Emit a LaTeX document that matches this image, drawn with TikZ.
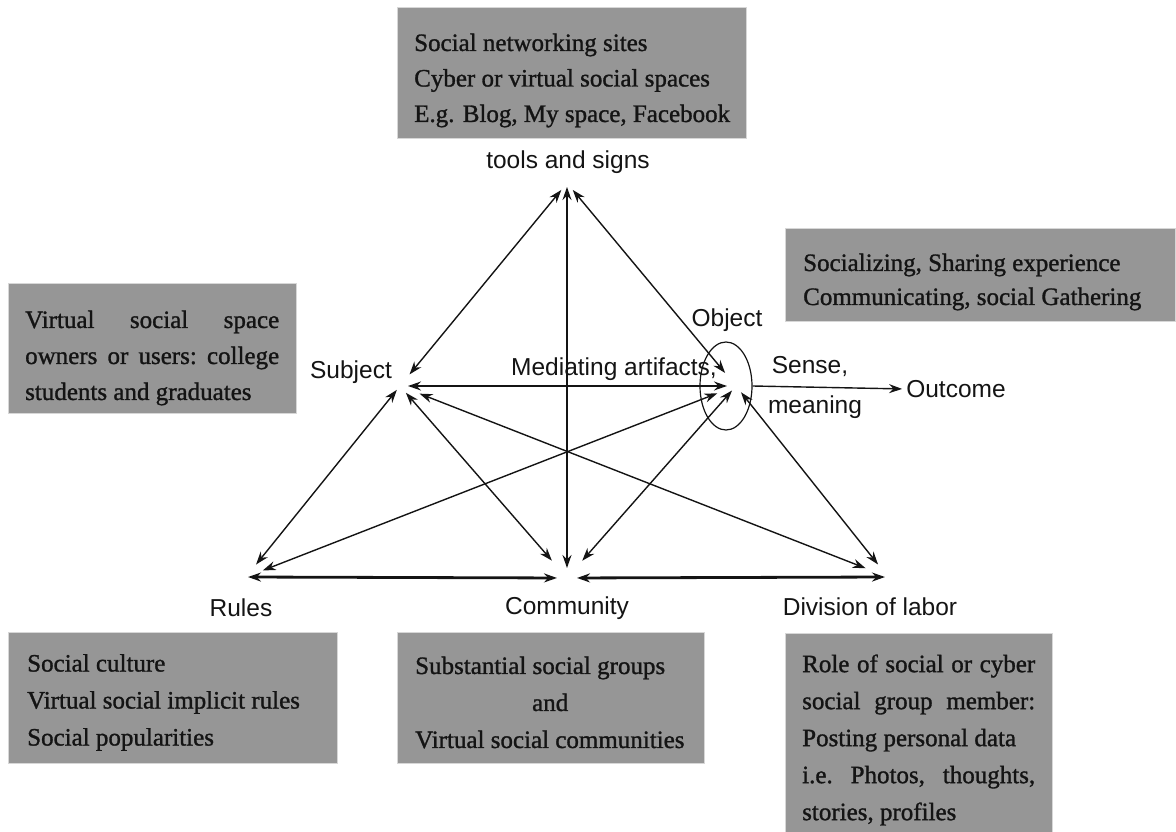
\documentclass[tikz,border=0pt]{standalone}
\usepackage{fontspec}
\setmainfont{Liberation Serif}
\newfontfamily\boxfont[FakeBold=1.2]{Liberation Serif}
\newfontfamily\lblfont{Liberation Sans}
\usetikzlibrary{arrows.meta,shapes.geometric}
\definecolor{boxgray}{RGB}{150,150,150}
\definecolor{boxedge}{RGB}{215,215,215}
\definecolor{ink}{RGB}{20,20,20}
\begin{document}
\begin{tikzpicture}[x=1pt,y=-1pt,
  infobox/.style={fill=boxgray, draw=boxedge, line width=0.7pt, inner sep=0pt},
  boxtext/.style={inner sep=0pt, anchor=west, align=left, text=ink, font=\boxfont\fontsize{25}{#1}\selectfont},
  lbl/.style={font=\lblfont\fontsize{24.5}{29}\selectfont, inner sep=0pt, text=ink},
  link/.style={{Stealth[length=13pt,width=9pt]}-{Stealth[length=13pt,width=9pt]}, line width=1.4pt, draw=ink},
  base/.style={link, line width=2.8pt},
  outarrow/.style={-{Stealth[length=13pt,width=9pt]}, line width=1.4pt, draw=ink},
]
\useasboundingbox (0,0) rectangle (1176,832);

% hubs
\coordinate (T) at (567,183);
\coordinate (S) at (400,386);
\coordinate (O) at (736,386);
\coordinate (R) at (246,577);
\coordinate (C) at (567,578);
\coordinate (D) at (888,577);

% grey boxes
\node[infobox, minimum width=349pt, minimum height=131pt] (toolsbox) at (571.5,72.5) {};
\node[infobox, minimum width=288pt, minimum height=130pt] (subjbox) at (152,348) {};
\node[infobox, minimum width=390pt, minimum height=93pt] (objbox) at (980,274.5) {};
\node[infobox, minimum width=329pt, minimum height=131pt] (rulesbox) at (172.5,697.5) {};
\node[infobox, minimum width=307pt, minimum height=131pt] (commbox) at (550.5,697.5) {};
\node[infobox, minimum width=267pt, minimum height=208pt] (divbox) at (918.5,737) {};

% box texts
\node[boxtext=35.5] (toolstext) at (414,80.5)
  {Social networking sites\\Cyber or virtual social spaces\\E.g. Blog, My space, Facebook};
\node[boxtext=36] (subjtext) at (25,358)
  {\hbox to 254pt{Virtual\hfill social\hfill space}\\\hbox to 254pt{owners\hfill or\hfill users:\hfill college}\\students and graduates};
\node[boxtext=34] (objtext) at (803,282)
  {Socializing, Sharing experience\\Communicating, social Gathering};
\node[boxtext=37] (rulestext) at (27,702.5)
  {Social culture\\Virtual social implicit rules\\Social popularities};
\node[boxtext=37] (commtext) at (415,702.5)
  {Substantial social groups\\\hbox to 270pt{\hfil and\hfil}\\Virtual social communities};
\node[boxtext=37] (divtext) at (802,740)
  {\hbox to 233pt{Role\hfill of\hfill social\hfill or\hfill cyber}\\\hbox to 233pt{social\hfill group\hfill member:}\\Posting personal data\\\hbox to 233pt{i.e.\hfill Photos,\hfill thoughts,}\\stories, profiles};

% labels
\node[lbl] (toolslbl) at (568,162) {tools and signs};
\node[lbl] (subjlbl) at (351,372) {Subject};
\node[lbl] (objlbl) at (727,320) {Object};
\node[lbl] (medlbl) at (614,369) {Mediating artifacts,};
\node[lbl] (senselbl) at (810,367) {Sense,};
\node[lbl] (meanlbl) at (815,407) {meaning};
\node[lbl] (outcome) at (956,389) {Outcome};
\node[lbl] (ruleslbl) at (241,608) {Rules};
\node[lbl] (commlbl) at (567,608) {Community};
\node[lbl] (divlbl) at (870,607) {Division of labor};

% object ellipse
\node[draw=ink, ellipse, minimum width=52pt, minimum height=88pt, line width=1.2pt, inner sep=0pt] (objell) at (726,386) {};

% connectors
\draw[link, shorten <=9pt, shorten >=15pt] (T) -- (S);
\draw[link, shorten <=4pt, shorten >=10pt] (T) -- (C);
\draw[link, shorten <=9pt, shorten >=17pt] (T) -- (O);
\draw[link, shorten <=8pt, shorten >=9pt] (S) -- (O);
\draw[link, shorten <=5pt, shorten >=16pt] (S) -- (R);
\draw[link, shorten <=9pt, shorten >=23pt] (S) -- (C);
\draw[link, shorten <=21pt, shorten >=24pt] (S) -- (D);
\draw[link, shorten <=20pt, shorten >=18pt] (O) -- (R);
\draw[link, shorten <=6pt, shorten >=23pt] (O) -- (C);
\draw[link, shorten <=8pt, shorten >=16pt] (O) -- (D);
\draw[base, shorten <=2pt, shorten >=10pt] (R) -- (C);
\draw[base, shorten <=10pt, shorten >=3pt] (C) -- (D);
\draw[outarrow, shorten >=4pt] (objell.east) -- (outcome.west);
\end{tikzpicture}
\end{document}
